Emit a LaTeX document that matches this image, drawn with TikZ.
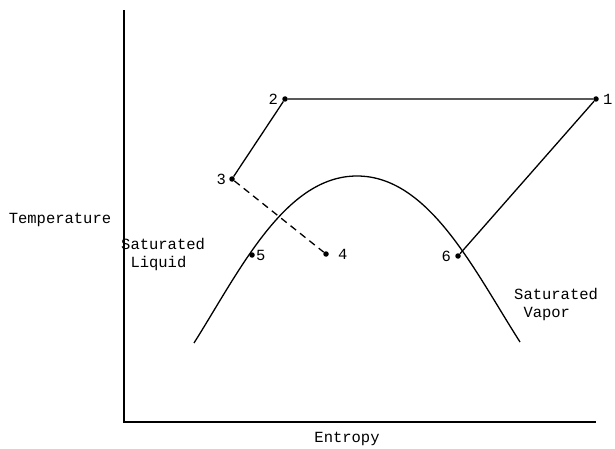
\documentclass[tikz,border=0pt]{standalone}
\usepackage{fontspec}
\setmonofont{Liberation Mono}
\usetikzlibrary{
  arrows.meta,
  positioning, calc
}

\tikzset{
  statept/.style={circle, fill=black, inner sep=0pt, minimum size=5.5pt},
  ptlabel/.style={inner sep=1pt},
  cycleline/.style={line width=1.3pt},
}

\begin{document}
\begin{tikzpicture}[x=1pt, y=-1pt, font=\ttfamily\fontsize{15.5}{18}\selectfont]
  \useasboundingbox (0,0) rectangle (615,449);

  % axes
  \coordinate (origin) at (124,422);
  \coordinate (ytop)   at (124,10);
  \coordinate (xend)   at (596,422);
  \draw[line width=1.5pt] (ytop) -- (origin) -- (xend);
  \node (tlabel) at (60,220) {Temperature};
  \node (slabel) at (347,439) {Entropy};

  % saturation dome
  \coordinate (domeL) at (194,343);
  \coordinate (domeT) at (357,176);
  \coordinate (domeR) at (520,342);
  \draw[cycleline] (domeL) .. controls (240,270) and (285,176) .. (domeT)
                           .. controls (429,176) and (474,270) .. (domeR);

  % state points
  \node[statept] (p1) at (596,99)  {};
  \node[statept] (p2) at (285,99)  {};
  \node[statept] (p3) at (232,179) {};
  \node[statept] (p4) at (326,254) {};
  \node[statept] (p5) at (252,255) {};
  \node[statept] (p6) at (458,256) {};

  \node[ptlabel, right=3pt of p1]  {1};
  \node[ptlabel, left=3pt of p2]   {2};
  \node[ptlabel, left=2pt of p3]   {3};
  \node[ptlabel, right=8pt of p4]  {4};
  \node[ptlabel, right=0pt of p5]  {5};
  \node[ptlabel, left=3pt of p6]   {6};

  % cycle
  \draw[cycleline] (p6) -- (p1) -- (p2) -- (p3);
  \draw[cycleline, dashed, dash pattern=on 7pt off 5pt] (p3) -- (p4);

  \node[align=left, anchor=north west, inner sep=0pt] (liq) at (121,238)
    {Saturated\\\hspace*{0.6em}Liquid};
  \node[align=left, anchor=north west, inner sep=0pt] (vap) at (514,288)
    {Saturated\\\hspace*{0.6em}Vapor};
\end{tikzpicture}
\end{document}
